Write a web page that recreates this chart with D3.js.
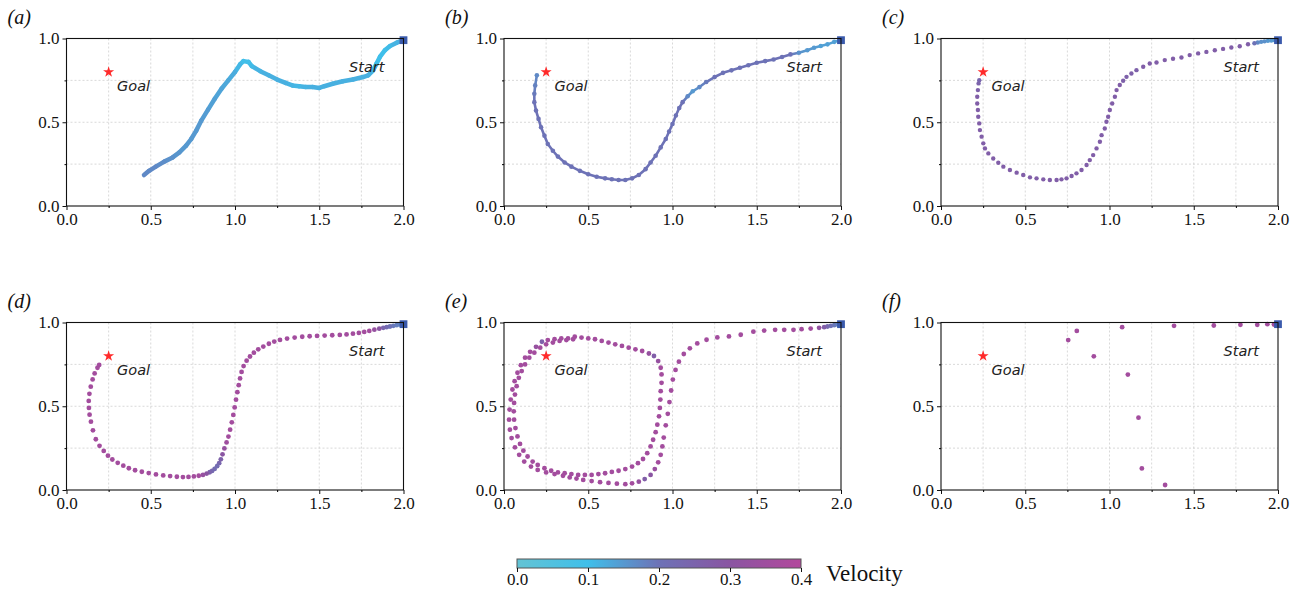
<!DOCTYPE html>
<html><head><meta charset="utf-8">
<script src="https://cdn.jsdelivr.net/npm/d3@7"></script>
<style>body{margin:0;background:#fff;} svg{display:block;}</style>
</head><body>
<svg id="chart" width="1297" height="589"></svg>
<script>
// ---------------- DATA ----------------
const panelLabels = ["(a)", "(b)", "(c)", "(d)", "(e)", "(f)"];
const xTickValues = [0, 0.5, 1.0, 1.5, 2.0];
const yTickValues = [0, 0.5, 1.0];
const xGridValues = [0.25, 0.5, 0.75, 1.0, 1.25, 1.5, 1.75];
const yGridValues = [0.25, 0.5, 0.75];
const xMinorTicks = [0.25, 0.75, 1.25, 1.75];
const yMinorTicks = [0.25, 0.75];
const goalPoint = [0.25, 0.8];
const startPoint = [2.0, 0.99];
const goalText = "Goal";
const startText = "Start";
const colorbarTicks = [0.0, 0.1, 0.2, 0.3, 0.4];
const colormapColors = ["#63c3d4", "#3fbfea", "#6d72b6", "#8a55a2", "#b3489c"];
const colorbarTitle = "Velocity";

// trajectories: [x, y, velocity]
const trajA = [
  [2.0,0.99,.13],[1.96,0.975,.12],[1.92,0.955,.11],[1.89,0.93,.1],[1.86,0.89,.1],[1.84,0.85,.1],
  [1.82,0.81,.11],[1.79,0.78,.12],[1.76,0.77,.12],[1.7,0.755,.12],[1.64,0.745,.12],[1.58,0.73,.12],
  [1.53,0.715,.12],[1.5,0.705,.12],[1.46,0.71,.12],[1.42,0.71,.12],[1.38,0.715,.11],[1.34,0.72,.11],
  [1.3,0.735,.12],[1.25,0.755,.12],[1.2,0.78,.12],[1.15,0.805,.12],[1.1,0.835,.11],[1.08,0.86,.1],
  [1.05,0.865,.09],[1.03,0.845,.1],[1.0,0.8,.12],[0.96,0.75,.13],[0.92,0.7,.13],[0.88,0.64,.14],
  [0.84,0.575,.14],[0.8,0.51,.15],[0.77,0.45,.15],[0.74,0.4,.15],[0.71,0.36,.15],[0.67,0.32,.15],
  [0.63,0.29,.16],[0.58,0.265,.16],[0.53,0.235,.17],[0.49,0.21,.17],[0.46,0.185,.17]
];
const trajB = [
  [2.0,0.99,.13],[1.96,0.98,.14],[1.92,0.965,.14],[1.88,0.955,.14],[1.84,0.945,.15],[1.8,0.93,.15],
  [1.75,0.915,.16],[1.7,0.905,.2],[1.65,0.89,.2],[1.6,0.875,.2],[1.55,0.865,.2],[1.5,0.855,.2],
  [1.45,0.84,.2],[1.4,0.825,.2],[1.35,0.81,.2],[1.3,0.795,.2],[1.25,0.77,.2],[1.2,0.74,.19],
  [1.16,0.71,.17],[1.12,0.685,.15],[1.09,0.655,.17],[1.06,0.62,.2],[1.04,0.585,.2],[1.02,0.54,.2],
  [1.0,0.49,.2],[0.98,0.445,.2],[0.96,0.4,.2],[0.93,0.35,.2],[0.9,0.3,.2],[0.87,0.26,.2],
  [0.84,0.22,.2],[0.8,0.185,.2],[0.76,0.165,.2],[0.72,0.155,.2],[0.68,0.155,.2],[0.64,0.16,.2],
  [0.6,0.165,.2],[0.55,0.175,.2],[0.5,0.19,.2],[0.45,0.21,.2],[0.4,0.235,.2],[0.36,0.26,.2],
  [0.32,0.295,.2],[0.29,0.33,.2],[0.26,0.37,.2],[0.24,0.42,.2],[0.22,0.47,.2],[0.205,0.52,.2],
  [0.19,0.57,.2],[0.18,0.62,.2],[0.18,0.67,.19],[0.185,0.72,.18],[0.195,0.78,.17]
];
const trajC = [
  [1.98,0.99,.15],[1.96,0.988,.15],[1.94,0.986,.15],[1.92,0.983,.16],[1.9,0.98,.16],[1.88,0.976,.17],[1.86,0.972,.2],
  [1.822,0.966,.27],[1.773,0.954,.27],[1.723,0.946,.27],[1.674,0.938,.27],[1.625,0.930,.27],[1.575,0.920,.27],
  [1.526,0.911,.27],[1.476,0.901,.27],[1.427,0.887,.27],[1.377,0.879,.27],[1.328,0.871,.27],[1.279,0.857,.27],
  [1.239,0.851,.27],[1.200,0.831,.27],[1.160,0.811,.26],[1.130,0.791,.26],[1.101,0.771,.26],[1.081,0.748,.26],
  [1.061,0.722,.27],[1.042,0.692,.27],[1.032,0.652,.27],[1.016,0.612,.27],[1.002,0.573,.27],[0.992,0.533,.27],
  [0.982,0.503,.27],[0.972,0.463,.27],[0.953,0.423,.27],[0.943,0.384,.27],[0.923,0.344,.27],[0.903,0.304,.27],
  [0.883,0.274,.27],[0.864,0.245,.27],[0.834,0.215,.27],[0.804,0.195,.27],[0.775,0.179,.27],[0.745,0.165,.27],
  [0.715,0.159,.27],[0.686,0.155,.27],[0.646,0.155,.27],[0.607,0.159,.27],[0.567,0.165,.27],[0.528,0.171,.27],
  [0.488,0.185,.27],[0.449,0.199,.27],[0.409,0.215,.27],[0.370,0.235,.27],[0.340,0.258,.27],[0.310,0.284,.27],
  [0.281,0.314,.27],[0.261,0.344,.27],[0.251,0.374,.27],[0.241,0.414,.27],[0.231,0.453,.27],[0.227,0.493,.27],
  [0.221,0.533,.27],[0.219,0.573,.27],[0.215,0.612,.27],[0.215,0.652,.27],[0.219,0.692,.26],[0.223,0.732,.25],
  [0.227,0.751,.24]
];
const trajD = [
  [1.98,0.988,.17],[1.96,0.984,.18],[1.94,0.98,.19],[1.92,0.976,.2],[1.90,0.972,.22],[1.88,0.968,.24],
  [1.856,0.963,.3],[1.827,0.957,.33],[1.797,0.950,.36],[1.767,0.944,.36],[1.735,0.938,.36],[1.700,0.933,.36],
  [1.662,0.929,.36],[1.622,0.926,.36],[1.577,0.924,.36],[1.532,0.922,.36],[1.487,0.920,.36],[1.443,0.918,.36],
  [1.399,0.915,.36],[1.354,0.910,.36],[1.309,0.904,.36],[1.267,0.896,.36],[1.233,0.886,.36],[1.201,0.873,.36],
  [1.168,0.856,.36],[1.138,0.840,.36],[1.112,0.820,.36],[1.089,0.797,.36],[1.069,0.772,.36],[1.051,0.740,.36],
  [1.039,0.705,.36],[1.030,0.666,.36],[1.022,0.626,.36],[1.014,0.584,.36],[1.006,0.539,.36],[0.998,0.493,.36],
  [0.990,0.448,.36],[0.981,0.404,.36],[0.971,0.360,.36],[0.961,0.319,.36],[0.950,0.284,.35],[0.937,0.248,.33],
  [0.926,0.213,.3],[0.916,0.183,.26],[0.906,0.160,.24],[0.894,0.142,.22],[0.879,0.126,.22],[0.864,0.114,.23],
  [0.850,0.106,.25],[0.832,0.098,.3],[0.810,0.090,.33],[0.785,0.085,.36],[0.756,0.081,.36],[0.724,0.078,.36],
  [0.691,0.077,.36],[0.655,0.079,.36],[0.615,0.083,.36],[0.574,0.087,.36],[0.531,0.093,.36],[0.488,0.101,.36],
  [0.447,0.109,.36],[0.407,0.118,.36],[0.370,0.130,.36],[0.337,0.145,.36],[0.304,0.162,.36],[0.272,0.182,.36],
  [0.246,0.205,.36],[0.221,0.233,.36],[0.196,0.264,.36],[0.174,0.303,.36],[0.157,0.356,.36],[0.145,0.408,.36],
  [0.137,0.450,.36],[0.133,0.490,.36],[0.132,0.532,.36],[0.136,0.574,.36],[0.144,0.617,.36],[0.155,0.660,.36],
  [0.167,0.696,.36],[0.184,0.730,.36],[0.194,0.747,.36]
];
const trajE = [
  [1.98,0.988,.17],[1.96,0.984,.19],[1.94,0.98,.2],[1.92,0.976,.23],[1.90,0.972,.27],[1.87,0.968,.32],
  [1.82,0.964,.36],[1.766,0.96,.36],[1.718,0.956,.36],[1.663,0.956,.36],[1.609,0.956,.36],[1.544,0.952,.36],
  [1.48,0.945,.36],[1.405,0.927,.36],[1.335,0.917,.36],[1.266,0.911,.36],[1.202,0.897,.36],[1.147,0.875,.36],
  [1.103,0.846,.36],[1.067,0.812,.36],[1.038,0.766,.36],[1.018,0.717,.36],[1.002,0.659,.36],[0.992,0.594,.36],
  [0.982,0.525,.36],[0.972,0.455,.36],[0.960,0.386,.36],[0.948,0.313,.36],
  [0.94,0.26,.36],[0.93,0.21,.36],[0.915,0.165,.36],[0.895,0.125,.34],[0.87,0.09,.3],[0.835,0.065,.27],
  [0.8,0.05,.33],[0.76,0.04,.36],[0.72,0.035,.36],[0.67,0.038,.36],[0.62,0.042,.36],[0.57,0.047,.36],
  [0.52,0.053,.36],[0.47,0.06,.36],[0.43,0.068,.36],[0.39,0.075,.36],[0.35,0.085,.36],[0.3,0.095,.36],
  [0.25,0.105,.36],[0.2,0.12,.36],[0.16,0.14,.36],[0.12,0.17,.36],[0.09,0.21,.36],[0.065,0.255,.36],
  [0.045,0.31,.36],[0.035,0.36,.36],[0.03,0.42,.36],[0.033,0.48,.36],[0.04,0.54,.36],[0.05,0.6,.36],
  [0.063,0.65,.36],[0.08,0.7,.36],[0.1,0.745,.36],[0.125,0.79,.36],[0.155,0.825,.36],[0.19,0.855,.33],
  [0.225,0.885,.26],[0.26,0.895,.36],[0.3,0.9,.36],[0.34,0.905,.36],[0.38,0.905,.36],[0.42,0.915,.36],
  [0.46,0.91,.36],[0.5,0.905,.36],[0.54,0.9,.36],[0.58,0.89,.36],[0.62,0.88,.36],[0.66,0.87,.36],
  [0.7,0.86,.36],[0.74,0.85,.36],[0.78,0.84,.36],[0.82,0.83,.36],[0.86,0.815,.33],[0.89,0.8,.27],
  [0.915,0.77,.33],[0.93,0.73,.36],[0.935,0.69,.36],[0.935,0.64,.36],[0.93,0.59,.36],[0.928,0.54,.36],
  [0.925,0.49,.36],[0.92,0.44,.36],[0.91,0.39,.36],[0.9,0.345,.36],[0.885,0.3,.36],[0.87,0.26,.36],
  [0.85,0.22,.36],[0.825,0.185,.36],[0.795,0.16,.36],[0.76,0.14,.36],[0.72,0.125,.36],[0.68,0.115,.36],
  [0.64,0.108,.36],[0.6,0.1,.36],[0.56,0.095,.36],[0.52,0.09,.36],[0.48,0.09,.36],[0.44,0.09,.36],
  [0.4,0.095,.36],[0.36,0.1,.36],[0.32,0.105,.36],[0.28,0.115,.36],[0.24,0.13,.36],[0.2,0.15,.36],
  [0.17,0.17,.36],[0.14,0.2,.36],[0.115,0.235,.36],[0.095,0.275,.36],[0.08,0.32,.36],[0.068,0.37,.36],
  [0.06,0.42,.36],[0.058,0.47,.36],[0.06,0.52,.36],[0.065,0.57,.36],[0.075,0.62,.36],[0.088,0.67,.36],
  [0.105,0.71,.36],[0.125,0.75,.36],[0.15,0.79,.36],[0.18,0.82,.36],[0.215,0.85,.36],[0.25,0.87,.36],
  [0.29,0.88,.36],[0.33,0.89,.36],[0.37,0.895,.36],[0.41,0.9,.36]
];
const trajF = [
  [1.99,0.99,.12],[1.976,0.988,.36],[1.937,0.99,.36],[1.877,0.986,.36],[1.777,0.986,.36],[1.619,0.982,.36],
  [1.383,0.98,.36],[1.075,0.972,.36],[0.806,0.95,.36],[0.755,0.895,.36],[0.907,0.798,.36],[1.109,0.689,.36],
  [1.172,0.432,.36],[1.192,0.129,.36],[1.33,0.03,.36]
];

// ---------------- LAYOUT ----------------
const svg = d3.select("#chart");
const W = 337, H = 167.5;
const colLeft = [66.5, 504, 941];
const rowTop = [38.5, 322.5];
const panels = [
  {traj: trajA, mode: "line", r: 0, w: 4.5},
  {traj: trajB, mode: "beads", r: 2.3, w: 2.6},
  {traj: trajC, mode: "dots", r: 2.2},
  {traj: trajD, mode: "dots", r: 2.4},
  {traj: trajE, mode: "dots", r: 2.4},
  {traj: trajF, mode: "dots", r: 2.4}
];

const color = d3.scaleLinear()
  .domain(colorbarTicks)
  .range(colormapColors)
  .interpolate(d3.interpolateRgb)
  .clamp(true);

const serif = "'Liberation Serif', 'Times New Roman', serif";
const sans = "'DejaVu Sans', sans-serif";

panels.forEach((p, i) => {
  const left = colLeft[i % 3], top = rowTop[Math.floor(i / 3)];
  const g = svg.append("g").attr("transform", `translate(${left},${top})`);
  const x = d3.scaleLinear().domain([0, 2]).range([0, W]);
  const y = d3.scaleLinear().domain([0, 1]).range([H, 0]);

  // grid
  g.append("g").selectAll("line").data(xGridValues).join("line")
    .attr("x1", d => x(d)).attr("x2", d => x(d)).attr("y1", 0).attr("y2", H)
    .attr("stroke", "#cfcfcf").attr("stroke-width", 0.8).attr("stroke-dasharray", "2,2");
  g.append("g").selectAll("line").data(yGridValues).join("line")
    .attr("y1", d => y(d)).attr("y2", d => y(d)).attr("x1", 0).attr("x2", W)
    .attr("stroke", "#cfcfcf").attr("stroke-width", 0.8).attr("stroke-dasharray", "2,2");

  // trajectory
  const t = p.traj;
  if (p.mode === "line" || p.mode === "beads") {
    const segs = d3.pairs(t);
    g.append("g").selectAll("line").data(segs).join("line")
      .attr("x1", d => x(d[0][0])).attr("y1", d => y(d[0][1]))
      .attr("x2", d => x(d[1][0])).attr("y2", d => y(d[1][1]))
      .attr("stroke", d => color((d[0][2] + d[1][2]) / 2))
      .attr("stroke-width", p.w).attr("stroke-linecap", "round");
  }
  if (p.mode !== "line") {
    g.append("g").selectAll("circle").data(t).join("circle")
      .attr("cx", d => x(d[0])).attr("cy", d => y(d[1])).attr("r", p.r)
      .attr("fill", d => color(d[2]));
  }

  // goal & start
  g.append("path").attr("d", d3.symbol(d3.symbolStar, 38)())
    .attr("transform", `translate(${x(goalPoint[0])},${y(goalPoint[1])})`)
    .attr("fill", "#ff2a2a");
  g.append("rect")
    .attr("x", x(startPoint[0]) - 3.9).attr("y", y(startPoint[1]) - 3.9)
    .attr("width", 7.8).attr("height", 7.8).attr("fill", "#3a5aac");
  g.append("text").attr("x", x(0.3)).attr("y", y(0.688))
    .attr("font-family", sans).attr("font-style", "italic").attr("font-size", 14.5)
    .attr("fill", "#222").text(goalText);
  g.append("text").attr("x", x(1.677)).attr("y", y(0.80))
    .attr("font-family", sans).attr("font-style", "italic").attr("font-size", 14.5)
    .attr("fill", "#222").text(startText);

  // frame
  g.append("rect").attr("width", W).attr("height", H)
    .attr("fill", "none").attr("stroke", "#111").attr("stroke-width", 1.1);

  // axes
  const fmt = d3.format(".1f");
  const xa = g.append("g").attr("transform", `translate(0,${H})`)
    .call(d3.axisBottom(x).tickValues(xTickValues).tickSize(4).tickPadding(3).tickFormat(fmt));
  const ya = g.append("g")
    .call(d3.axisLeft(y).tickValues(yTickValues).tickSize(4).tickPadding(3).tickFormat(fmt));
  g.append("g").attr("transform", `translate(0,${H})`)
    .call(d3.axisBottom(x).tickValues(xMinorTicks).tickSize(2).tickFormat(""))
    .call(s => s.select(".domain").remove());
  g.append("g")
    .call(d3.axisLeft(y).tickValues(yMinorTicks).tickSize(2).tickFormat(""))
    .call(s => s.select(".domain").remove());
  [xa, ya].forEach(a => {
    a.attr("font-family", serif).attr("font-size", 17);
    a.select(".domain").remove();
    a.selectAll("text").attr("font-family", serif).attr("font-size", 17).attr("fill", "#111");
    a.selectAll("line").attr("stroke", "#111");
  });

  // panel label
  svg.append("text").attr("x", left - 59).attr("y", top - 15)
    .attr("font-family", serif).attr("font-style", "italic").attr("font-size", 20)
    .attr("fill", "#111").text(panelLabels[i]);
});

// ---------------- COLORBAR ----------------
const cbX = d3.scaleLinear().domain([0, 0.4]).range([517, 801]);
const cbY = 559, cbH = 9;
const defs = svg.append("defs");
const grad = defs.append("linearGradient").attr("id", "cbgrad");
colorbarTicks.forEach((v, k) => {
  grad.append("stop").attr("offset", `${v / 0.4 * 100}%`).attr("stop-color", colormapColors[k]);
});
svg.append("rect").attr("x", cbX(0)).attr("y", cbY).attr("width", cbX(0.4) - cbX(0)).attr("height", cbH)
  .attr("fill", "url(#cbgrad)").attr("stroke", "#555").attr("stroke-width", 1);
const cba = svg.append("g").attr("transform", `translate(0,${cbY + cbH})`)
  .call(d3.axisBottom(cbX).tickValues(colorbarTicks).tickSize(4).tickPadding(1).tickFormat(d3.format(".1f")));
cba.attr("font-family", serif).attr("font-size", 17);
cba.select(".domain").remove();
cba.selectAll("text").attr("font-family", serif).attr("font-size", 17).attr("fill", "#111");
cba.selectAll("line").attr("stroke", "#111");
svg.append("text").attr("x", 826).attr("y", 581)
  .attr("font-family", serif).attr("font-size", 23).attr("fill", "#111").text(colorbarTitle);
</script>
</body></html>
